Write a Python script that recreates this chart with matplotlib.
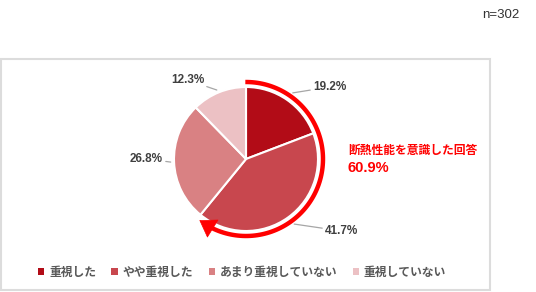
import numpy as np
import matplotlib
matplotlib.use("Agg")
import matplotlib.pyplot as plt
from matplotlib.patches import Rectangle, FancyArrowPatch

plt.rcParams['font.family'] = ['Noto Sans CJK JP', 'DejaVu Sans']

# data
categories = ["重視した", "やや重視した", "あまり重視していない", "重視していない"]
values = [19.2, 41.7, 26.8, 12.3]
labels = ["19.2%", "41.7%", "26.8%", "12.3%"]
colors = ["#b20c17", "#c8474e", "#d98183", "#ecc1c4"]
n_text = "n=302"
note_text = "断熱性能を意識した回答"
note_value = values[0] + values[1]

W, H = 536, 292


def py(y):
    # pixel y (top origin) -> data y
    return H - y


fig = plt.figure(figsize=(W / 100, H / 100), dpi=100)
ax = fig.add_axes([0, 0, 1, 1])

cx, cy = 246, py(159)
r = 72

wedges, _ = ax.pie(values, colors=colors, startangle=90, counterclock=False,
                   center=(cx, cy), radius=r, frame=True,
                   wedgeprops=dict(edgecolor="white", linewidth=1.5))
ax.set_xlim(0, W)
ax.set_ylim(0, H)
ax.set_aspect("equal")
ax.axis("off")

# outer frame
ax.add_patch(Rectangle((1, py(290)), 489, 231, fill=False,
                       edgecolor="#dcdcdc", linewidth=1.5))

# value labels with leader lines
starts = np.cumsum([0] + values[:-1])
mids = 90 - (starts + np.array(values) / 2) * 3.6
lead_r = [80, 80, 74, 74]
text_pos = [(313, 87), (325, 231), (163, 159), (204, 80)]
text_ha = ["left", "left", "right", "right"]
for i, lab in enumerate(labels):
    a = np.deg2rad(mids[i])
    p0 = (cx + lead_r[i] * np.cos(a), cy + lead_r[i] * np.sin(a))
    tx, ty = text_pos[i]
    ax.annotate(lab, xy=p0, xytext=(tx, py(ty)), ha=text_ha[i], va="center",
                fontsize=8.5, fontweight="bold", color="#404040",
                family=["Liberation Sans", "DejaVu Sans"],
                arrowprops=dict(arrowstyle="-", color="#a6a6a6", lw=0.9,
                                shrinkA=0, shrinkB=1))

# red arc arrow covering first two categories
ar = 77
t = np.deg2rad(np.linspace(90.5, 90 - note_value * 3.6 + 2, 120))
pts = np.column_stack([cx + ar * np.cos(t), cy + ar * np.sin(t)])
ax.plot(pts[:-4, 0], pts[:-4, 1], color="#ff0000", lw=3.2, solid_capstyle="butt")
arrow = FancyArrowPatch(pts[-7], pts[-1], arrowstyle="-|>,head_length=0.9,head_width=0.6",
                        mutation_scale=12, color="#ff0000", lw=0.5,
                        shrinkA=0, shrinkB=0)
ax.add_patch(arrow)

ax.text(348, py(150), note_text, ha="left", va="center", fontsize=8.5,
        fontweight="bold", color="#ff0000")
ax.text(348, py(168), f"{note_value:.1f}%", ha="left", va="center", fontsize=10.5,
        fontweight="bold", color="#ff0000", family=["Liberation Sans", "DejaVu Sans"])

ax.text(482, py(15), n_text, ha="left", va="center", fontsize=9.5,
        color="#333333", family=["Liberation Sans", "DejaVu Sans"])

leg = ax.legend(wedges, categories, loc="center", bbox_to_anchor=(242 / W, 1 - 272 / H),
                ncol=4, frameon=False, fontsize=8.5, handlelength=0.55, handleheight=0.55,
                handletextpad=0.4, columnspacing=1.3, borderpad=0)
for txt in leg.get_texts():
    txt.set_color("#595959")
    txt.set_fontweight("bold")
for h in leg.legend_handles:
    h.set_edgecolor("none")

fig.savefig("out.png", dpi=100)
